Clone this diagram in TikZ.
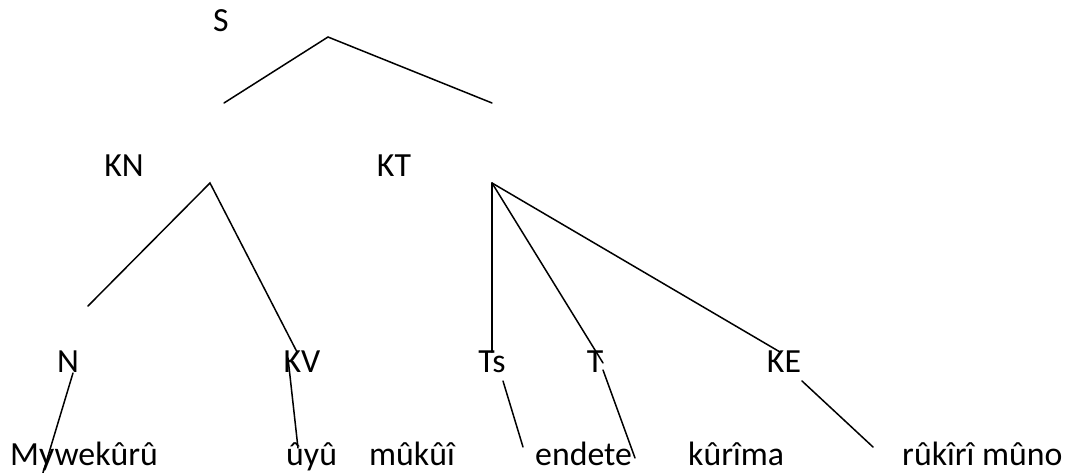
\documentclass[tikz,border=0pt]{standalone}
\usepackage{fontspec}
\setmainfont{Carlito}
\begin{document}
\begin{tikzpicture}[x=1pt,y=-1pt,
  lbl/.style={inner sep=0pt,anchor=base,font=\fontsize{33.8pt}{40pt}\selectfont},
  wrd/.style={inner sep=0pt,anchor=base west,font=\fontsize{33.8pt}{40pt}\selectfont},
  edge/.style={line width=1.5pt,line cap=round}]
\useasboundingbox[fill=white] (0,0) rectangle (1067,473);
% category labels
\node[lbl] (S)  at (221,32) {S};
\node[lbl] (KN) at (124,177) {KN};
\node[lbl] (KT) at (394,177) {KT};
\node[lbl] (N)  at (68,372) {N};
\node[lbl] (KV) at (302,372) {KV};
\node[lbl] (Ts) at (492,372) {Ts};
\node[lbl] (T)  at (595,372) {T};
\node[lbl] (KE) at (784,372) {KE};
% words
\node[wrd] (w1) at (10,465) {Mywekûrû};
\node[wrd] (w2) at (286,465) {ûyû};
\node[wrd] (w3) at (369,465) {mûkûî};
\node[wrd] (w4) at (535,465) {endete};
\node[wrd] (w5) at (688,465) {kûrîma};
\node[wrd] (w6) at (902,465) {rûkîrî mûno};
% line end points
\coordinate (sTop) at (328,37);
\coordinate (sL) at (224,103);
\coordinate (sR) at (492,103);
\coordinate (knTop) at (210,183);
\coordinate (knL) at (88,306);
\coordinate (knR) at (297,352);
\coordinate (ktTop) at (492,183);
\coordinate (ktA) at (492,352);
\coordinate (ktB) at (603,363);
\coordinate (ktC) at (780,352);
\coordinate (nA) at (73,373);
\coordinate (nB) at (42,476);
\coordinate (kvA) at (288,358);
\coordinate (kvB) at (298,448);
\coordinate (tsA) at (503,381);
\coordinate (tsB) at (523,447);
\coordinate (tA) at (603,370);
\coordinate (tB) at (635,458);
\coordinate (keA) at (802,381);
\coordinate (keB) at (873,447);
% connectors
\draw[edge] (sL) -- (sTop) -- (sR);
\draw[edge] (knL) -- (knTop) -- (knR);
\draw[edge] (ktTop) -- (ktA);
\draw[edge] (ktTop) -- (ktB);
\draw[edge] (ktTop) -- (ktC);
\draw[edge] (nA) -- (nB);
\draw[edge] (kvA) -- (kvB);
\draw[edge] (tsA) -- (tsB);
\draw[edge] (tA) -- (tB);
\draw[edge] (keA) -- (keB);
\end{tikzpicture}
\end{document}
